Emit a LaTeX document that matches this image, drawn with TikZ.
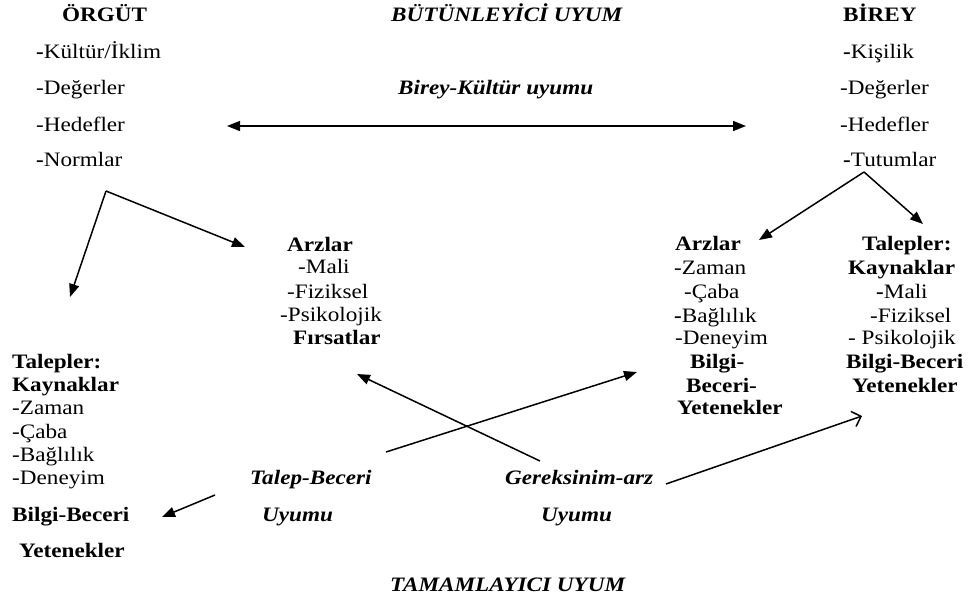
\documentclass[tikz,border=0pt]{standalone}
\usepackage{fontspec}
\setmainfont{Liberation Serif}[FakeStretch=1.13]
\usetikzlibrary{arrows.meta}
\tikzset{
  tx/.style={anchor=west, inner sep=0pt, text height=17pt, text depth=4pt, font=\fontsize{20.5}{24}\selectfont},
  bx/.style={tx, font=\fontsize{20.5}{24}\selectfont\bfseries},
  ix/.style={tx, font=\fontsize{20.5}{24}\selectfont\bfseries\itshape},
  arr/.style={line width=1.5pt, -{Triangle[length=13pt,width=10pt]}},
  darr/.style={line width=1.5pt, {Triangle[length=13pt,width=10pt]}-{Triangle[length=13pt,width=10pt]}},
  oarr/.style={line width=1.5pt, -{Straight Barb[length=8pt,width=16pt,line width=1.5pt]}}
}
\begin{document}
\begin{tikzpicture}[x=1pt,y=-1pt]
\useasboundingbox (0,0) rectangle (974,603);
% headers
\node[bx] (org) at (62,15) {ÖRGÜT};
\node[ix] (but) at (391,15) {BÜTÜNLEYİCİ UYUM};
\node[bx] (bir) at (843,15) {BİREY};
% left column
\node[tx] (o1) at (36,52) {\textbf{-}Kültür/İklim};
\node[tx] (o2) at (36,88) {-Değerler};
\node[tx] (o3) at (36,125) {-Hedefler};
\node[tx] (o4) at (36,160) {\textbf{-}Normlar};
\node[ix] (bku) at (398,88) {Birey-Kültür uyumu};
% right column
\node[tx] (r1) at (843,52) {\textbf{-}Kişilik};
\node[tx] (r2) at (840,88) {-Değerler};
\node[tx] (r3) at (840,125) {-Hedefler};
\node[tx] (r4) at (843,160) {\textbf{-}Tutumlar};
% middle Arzlar
\node[bx] (ma1) at (287,245) {Arzlar};
\node[tx] (ma2) at (298,267) {-Mali};
\node[tx] (ma3) at (287,292) {-Fiziksel};
\node[tx] (ma4) at (280,315) {-Psikolojik};
\node[bx] (ma5) at (293,338) {Fırsatlar};
% right Arzlar
\node[bx] (ra1) at (675,244) {Arzlar};
\node[tx] (ra2) at (674,268) {-Zaman};
\node[tx] (ra3) at (684,292) {-Çaba};
\node[tx] (ra4) at (674,316) {\textbf{-}Bağlılık};
\node[tx] (ra5) at (675,338) {-Deneyim};
\node[bx] (ra6) at (690,362) {Bilgi-};
\node[bx] (ra7) at (686,386) {Beceri-};
\node[bx] (ra8) at (677,408) {Yetenekler};
% right Talepler
\node[bx] (rt1) at (862,244) {Talepler:};
\node[bx] (rt2) at (848,268) {Kaynaklar};
\node[tx] (rt3) at (876,292) {\textbf{-}Mali};
\node[tx] (rt4) at (870,316) {-Fiziksel};
\node[tx] (rt5) at (848,338) {- Psikolojik};
\node[bx] (rt6) at (846,362) {Bilgi-Beceri};
\node[bx] (rt7) at (852,386) {Yetenekler};
% left Talepler
\node[bx] (lt1) at (12,362) {Talepler:};
\node[bx] (lt2) at (12,385) {Kaynaklar};
\node[tx] (lt3) at (12,408) {-Zaman};
\node[tx] (lt4) at (12,432) {-Çaba};
\node[tx] (lt5) at (12,455) {-Bağlılık};
\node[tx] (lt6) at (12,478) {-Deneyim};
\node[bx] (lt7) at (12,515) {Bilgi-Beceri};
\node[bx] (lt8) at (19,551) {Yetenekler};
% bottom labels
\node[ix] (tb1) at (250,478) {Talep-Beceri};
\node[ix] (tb2) at (262,515) {Uyumu};
\node[ix] (ga1) at (505,478) {Gereksinim-arz};
\node[ix] (ga2) at (541,515) {Uyumu};
\node[ix] (tam) at (390,585) {TAMAMLAYICI UYUM};
% connector points
\coordinate (hl) at (227,126);
\coordinate (hr) at (746,126);
\coordinate (lv) at (106,191);
\coordinate (lvA) at (70,297);
\coordinate (lvB) at (245,247);
\coordinate (rv) at (864,172);
\coordinate (rvA) at (759,240);
\coordinate (rvB) at (923,224);
\coordinate (bl0) at (215,495);
\coordinate (bl1) at (162,517);
\coordinate (x1s) at (540,461);
\coordinate (x1e) at (357,374);
\coordinate (x2s) at (386,452);
\coordinate (x2e) at (637,372);
\coordinate (g0) at (666,484);
\coordinate (g1) at (862,416);
% connectors
\draw[darr] (hl) -- (hr);
\draw[arr] (lv) -- (lvA);
\draw[arr] (lv) -- (lvB);
\draw[arr] (rv) -- (rvA);
\draw[arr] (rv) -- (rvB);
\draw[arr] (bl0) -- (bl1);
\draw[arr] (x1s) -- (x1e);
\draw[arr] (x2s) -- (x2e);
\draw[oarr] (g0) -- (g1);
\end{tikzpicture}
\end{document}
